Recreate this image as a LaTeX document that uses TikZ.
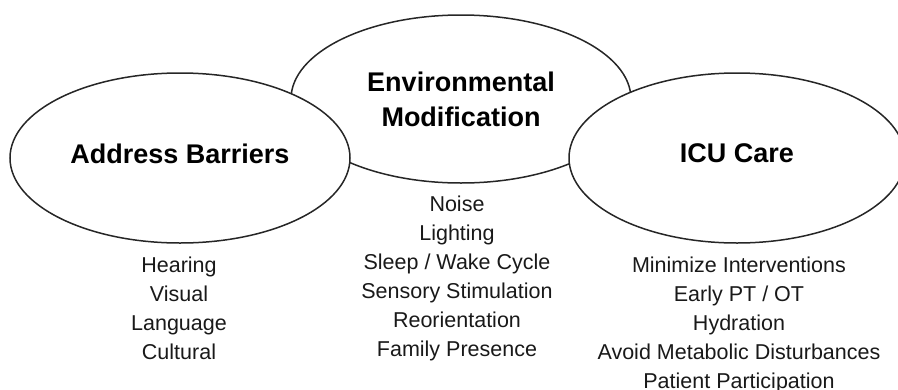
\documentclass[tikz,border=0pt]{standalone}
\usepackage{fontspec}
\setmainfont{Liberation Sans}
\usetikzlibrary{shapes.geometric}
\begin{document}
\begin{tikzpicture}[x=1pt, y=-1pt,
    bubble/.style={ellipse, draw=black!85, line width=1.5pt, fill=white, inner sep=0pt,
        align=center, font=\bfseries\fontsize{27}{35}\selectfont},
    items/.style={anchor=north, align=center, inner sep=0pt,
        font=\fontsize{21.5}{29}\selectfont, text=black!90}]
    \useasboundingbox (0,0) rectangle (898,389);

    % Middle bubble first, the other two lie over it
    \node[bubble, minimum width=340pt, minimum height=168pt] (env) at (461,99) {Environmental\\Modification};
    \node[bubble, minimum width=340pt, minimum height=170pt, text depth=9pt] (barriers) at (180,158) {Address Barriers};
    \node[bubble, minimum width=336pt, minimum height=170pt, text depth=9pt] (icu) at (737,158) {ICU Care};

    % Lists under the bubbles
    \node[items] (barrierlist) at (179,257) {Hearing\\Visual\\Language\\Cultural};
    \node[items] (envlist) at (457,195.5) {Noise\\Lighting\\Sleep / Wake Cycle\\Sensory Stimulation\\Reorientation\\Family Presence};
    \node[items] (iculist) at (739,257) {Minimize Interventions\\Early PT / OT\\Hydration\\Avoid Metabolic Disturbances\\Patient Participation};
\end{tikzpicture}
\end{document}
